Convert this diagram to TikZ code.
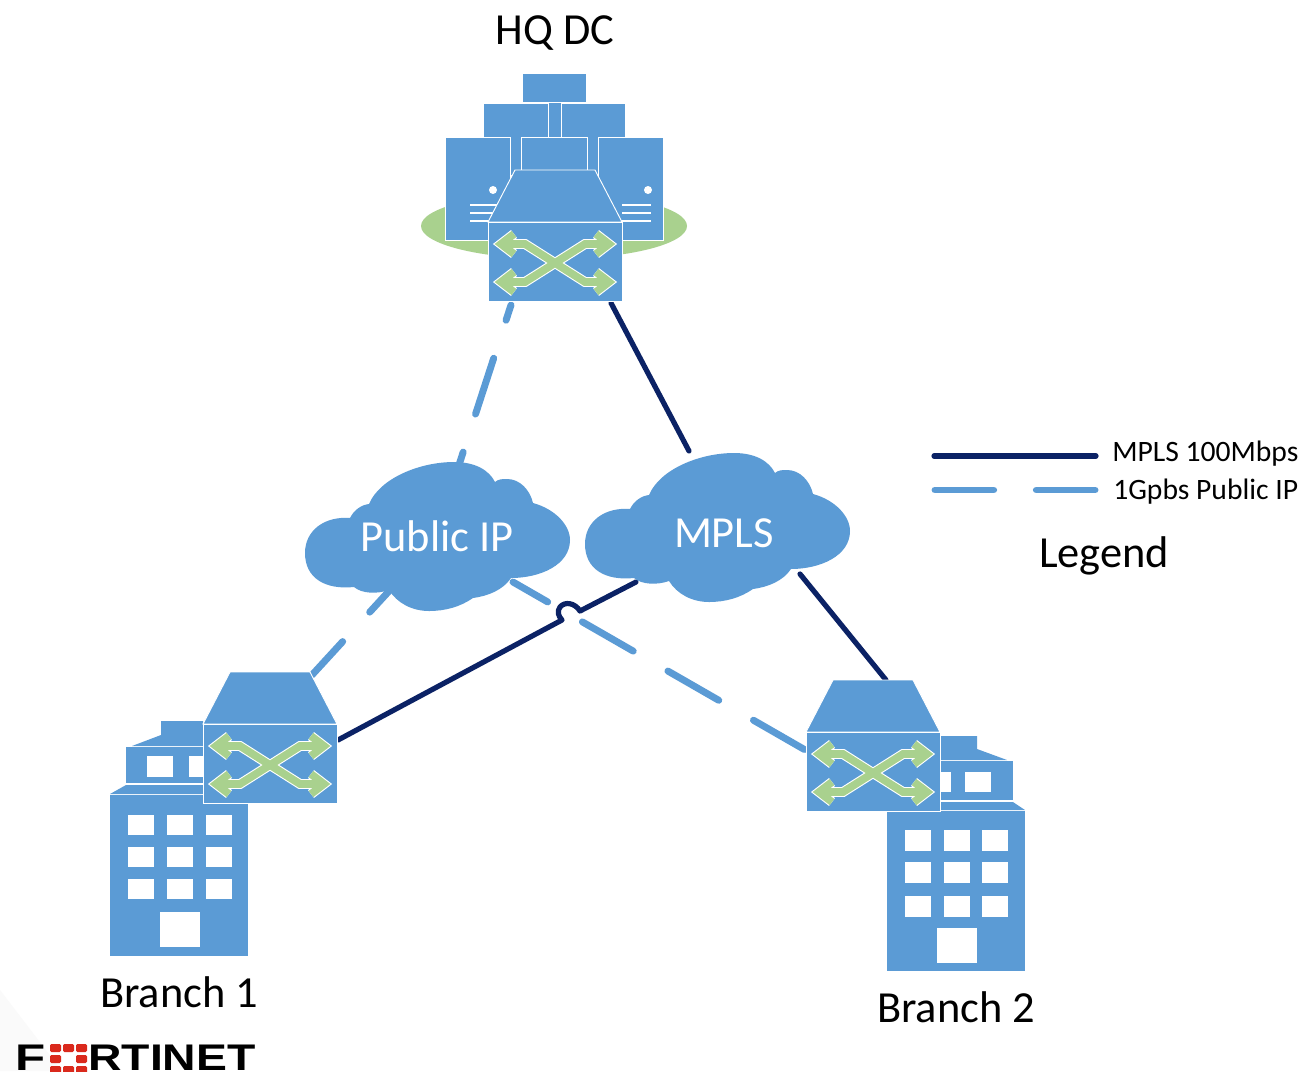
\documentclass[tikz,border=0pt]{standalone}
\usepackage{fontspec}
\setmainfont{Carlito}
\newfontfamily\logofont{Liberation Sans}[Scale=1]
\definecolor{skyblue}{HTML}{5B9BD5}
\definecolor{leafgreen}{HTML}{A9D18E}
\definecolor{deepnavy}{HTML}{0B2265}
\definecolor{logored}{HTML}{DA291C}
\tikzset{
  blueshape/.style={fill=skyblue,draw=white,line width=.7pt,line join=miter},
  plainblue/.style={fill=skyblue,draw=none},
  hole/.style={fill=white,draw=none},
  labeltext/.style={inner sep=0pt,font=\fontsize{33.3}{36}\selectfont,text=black},
  cloudtext/.style={inner sep=0pt,font=\fontsize{33.3}{36}\selectfont,text=white},
  legendtext/.style={inner sep=0pt,anchor=west,font=\fontsize{22.2}{24}\selectfont,text=black},
  navyline/.style={draw=deepnavy,line width=3.9pt,line cap=round},
  dashline/.style={draw=skyblue,line width=5.2pt,line cap=round,dash pattern=on 44pt off 30pt},
  arrowstroke/.style={line width=#1,line join=miter,miter limit=10,line cap=butt},
  switchpic/.pic={
    \path[blueshape] (27,-52) -- (107,-52) -- (134,0) -- (0,0) -- cycle;
    \path[blueshape] (0,0) rectangle (134,79);
    \foreach \c/\w in {white/7.4pt,leafgreen/5.8pt}{
      \draw[arrowstroke=\w,draw=\c] (13,22) -- (37,22) -- (97,60) -- (121,60);
      \draw[arrowstroke=\w,draw=\c] (13,60) -- (37,60) -- (97,22) -- (121,22);
      \draw[arrowstroke=\w,draw=\c] (26,12) -- (13,22) -- (26,32);
      \draw[arrowstroke=\w,draw=\c] (26,50) -- (13,60) -- (26,70);
      \draw[arrowstroke=\w,draw=\c] (108,12) -- (121,22) -- (108,32);
      \draw[arrowstroke=\w,draw=\c] (108,50) -- (121,60) -- (108,70);
    }
  },
  cloudpic/.pic={
    \path[fill=skyblue,draw=none]
      (-87,-19) .. controls (-83,-27) and (-76,-32) .. (-68,-33)
      .. controls (-57,-59) and (-17,-75) .. (17,-75)
      .. controls (38,-75) and (52,-67) .. (58,-55)
      .. controls (61,-58) and (66,-58) .. (70,-58)
      .. controls (83,-58) and (93,-47) .. (96,-34)
      .. controls (118,-28) and (133,-12) .. (133,3)
      .. controls (133,28) and (103,41) .. (74,41)
      .. controls (66,53) and (51,59) .. (36,61)
      .. controls (23,70) and (8,74) .. (-8,74)
      .. controls (-25,74) and (-40,66) .. (-48,53)
      .. controls (-59,57) and (-75,57) .. (-83,50)
      .. controls (-112,53) and (-132,41) .. (-132,16)
      .. controls (-132,-7) and (-112,-21) .. (-87,-19) -- cycle;
  }
}
\begin{document}
\begin{tikzpicture}[x=.75pt,y=-.75pt]
\useasboundingbox (0,0) rectangle (1301,1071);
\clip (0,0) rectangle (1301,1071);
\fill[white] (0,0) rectangle (1301,1071);
\fill[black!2] (0,990) -- (62,1071) -- (0,1071) -- cycle;

% connector ends
\coordinate (hqPub) at (511,305);
\coordinate (pubHq) at (458,468);
\coordinate (hqMpls) at (611,303);
\coordinate (mplsHq) at (689,451);
\coordinate (pubB1) at (390,590);
\coordinate (b1Pub) at (312,675);
\coordinate (pubB2) at (513,582);
\coordinate (b2Pub) at (807,751);
\coordinate (mplsB2) at (800,574);
\coordinate (b2Mpls) at (886,680);
\coordinate (mplsB1) at (636,582);
\coordinate (b1Mpls) at (338,740);
\coordinate (legA) at (934,456);
\coordinate (legB) at (1096,456);
\coordinate (legC) at (935,490);
\coordinate (legD) at (1095,490);

% connectors
\draw[navyline] (hqMpls) -- (mplsHq);
\draw[navyline] (mplsB2) -- (b2Mpls);
\draw[navyline,line join=round] (mplsB1) -- (580,611) .. controls (575,603) and (565,601) .. (560,607) .. controls (557,611) and (558,616) .. (562,620) -- (b1Mpls);
\draw[dashline,dash phase=32pt] (hqPub) -- (pubHq);
\draw[dashline,dash phase=21.5pt] (pubB1) -- (b1Pub);
\draw[dashline,dash phase=14pt] (pubB2) -- (b2Pub);

% clouds
\pic at (437,537) {cloudpic};
\pic at (717,528) {cloudpic};
\node[cloudtext] (pubLabel) at (437,536) {Public IP};
\node[cloudtext] (mplsLabel) at (724,533) {MPLS};

% HQ data centre
\fill[leafgreen] (554,226) ellipse [x radius=133,y radius=33];
\path[plainblue] (548,100) rectangle (561,140);
\path[blueshape] (522,73) rectangle (586,102);
\path[blueshape] (483,103) rectangle (548,138);
\path[blueshape] (561,103) rectangle (625,138);
\path[plainblue] (510,138) rectangle (598,175);
\path[blueshape] (445,137) rectangle (510,240);
\path[blueshape] (598,137) rectangle (663,240);
\path[blueshape] (521,137) rectangle (587,172);
\foreach \xa/\xb/\cx in {470/497/493,622/651/648}{
  \fill[white] (\cx,190) circle [radius=4];
  \foreach \yy in {205,213,221}{
    \draw[white,line width=1.4pt] (\xa,\yy) -- (\xb,\yy);
  }
}
\pic at (488,222) {switchpic};

% Branch 1 building
\path[plainblue] (161,721) -- (203,721) -- (203,746) -- (132,746) -- (161,735) -- cycle;
\path[plainblue] (126,747) rectangle (204,783);
\path[hole] (147,756) rectangle (173,777);
\path[hole] (189,756) rectangle (204,777);
\path[plainblue] (110,794) -- (126,785) -- (204,785) -- (248,794) -- cycle;
\path[plainblue] (110,795) rectangle (248,956);
\foreach \xx in {128,167,206}{
  \foreach \yy in {815,847,879}{
    \path[hole] (\xx,\yy) rectangle +(26,20);
  }
}
\path[hole] (160,912) rectangle (200,947);
\pic at (203,724) {switchpic};

% Branch 2 building
\path[plainblue] (977,736) -- (938,736) -- (938,760) -- (1007,760) -- (977,749) -- cycle;
\path[plainblue] (938,761) rectangle (1013,800);
\path[hole] (938,772) rectangle (951,792);
\path[hole] (965,772) rectangle (991,792);
\path[plainblue] (1025,810) -- (1013,802) -- (938,802) -- (887,810) -- cycle;
\path[plainblue] (887,811) rectangle (1025,971);
\foreach \xx in {905,944,982}{
  \foreach \yy in {830,862,896}{
    \path[hole] (\xx,\yy) rectangle +(26,21);
  }
}
\path[hole] (937,928) rectangle (977,963);
\pic at (806,732) {switchpic};

% labels
\node[labeltext] (hqLabel) at (555,33) {HQ DC};
\node[labeltext] (b1Label) at (179,992) {Branch 1};
\node[labeltext] (b2Label) at (956,1007) {Branch 2};
\node[labeltext] (legendLabel) at (1104,556) {Legend};

% legend
\draw[navyline] (legA) -- (legB);
\draw[dashline,dash pattern=on 44pt off 32pt] (legC) -- (legD);
\node[legendtext] (legMpls) at (1112,454) {MPLS 100Mbps};
\node[legendtext] (legPub) at (1113,492) {1Gpbs Public IP};

% logo
\node[inner sep=0pt,anchor=base west,font={\logofont\bfseries\fontsize{27.8}{30}\selectfont},xscale=1.33,text=black] (logoF) at (15,1070.5) {F};
\foreach \xx/\yy/\ww/\hh in {50/1044/11/8,63/1044/11/8,76/1044/11/8,50/1055/11/8,76/1055/11/8,50/1066/11/8,63/1066/11/8,76/1066/11/8}{
  \fill[logored,rounded corners=1pt] (\xx,\yy) rectangle +(\ww,\hh);
}
\node[inner sep=0pt,anchor=base west,font={\logofont\bfseries\fontsize{27.8}{30}\selectfont},xscale=1.25,text=black] (logoRest) at (88,1070.5) {RTINET};
\end{tikzpicture}
\end{document}
